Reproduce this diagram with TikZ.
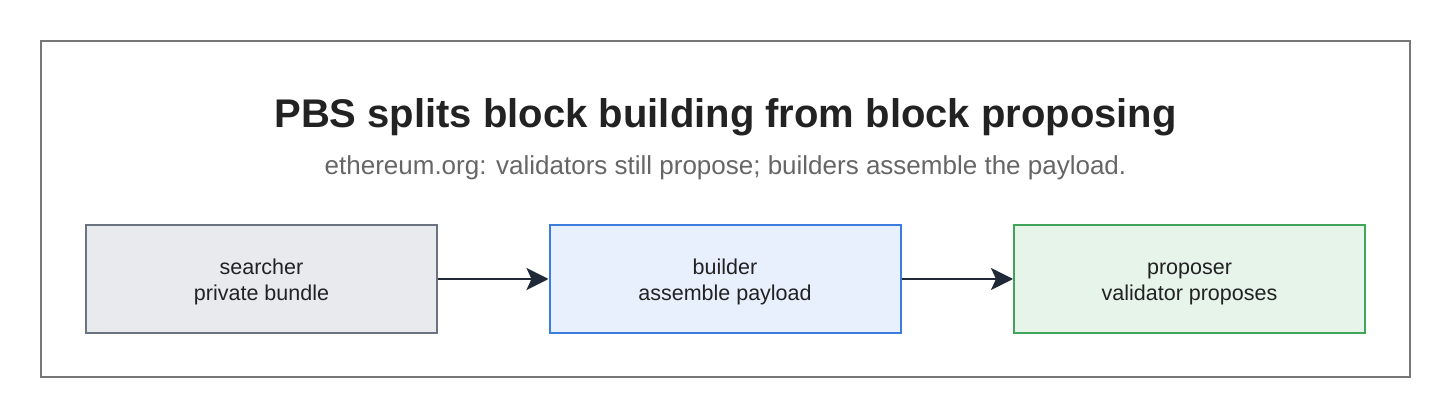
\documentclass[tikz,border=0pt]{standalone}
\usepackage{fontspec}
\setmainfont{Liberation Sans}
\usetikzlibrary{arrows.meta}
\definecolor{framec}{HTML}{777777}
\definecolor{titlec}{HTML}{222222}
\definecolor{subc}{HTML}{666666}
\definecolor{graystroke}{HTML}{6B7280}
\definecolor{grayfill}{HTML}{E8EAEE}
\definecolor{bluestroke}{HTML}{3B7DDD}
\definecolor{bluefill}{HTML}{E8F0FD}
\definecolor{greenstroke}{HTML}{3FA55A}
\definecolor{greenfill}{HTML}{E6F4EA}
\definecolor{arrowc}{HTML}{1F2937}
\begin{document}
\begin{tikzpicture}[x=1pt,y=-1pt,
  stagebox/.style={draw, line width=2pt, minimum width=351pt, minimum height=108pt, inner sep=0pt, align=center, font=\fontsize{21.5}{26}\selectfont, text=titlec},
  flow/.style={draw=arrowc, line width=2.5pt, -{Stealth[length=22pt,width=22pt,inset=5pt]}}]
\useasboundingbox (0,0) rectangle (1451,419);
\node[draw=framec, line width=2pt, minimum width=1369pt, minimum height=336pt, inner sep=0pt] (frame) at (725.5,209) {};
\node[font=\bfseries\fontsize{40}{46}\selectfont, text=titlec] (title) at (725.5,117) {PBS splits block building from block proposing};
\node[font=\fontsize{26}{30}\selectfont, text=subc] (sub) at (725.5,168) {ethereum.org: validators still propose; builders assemble the payload.};
\node[stagebox, draw=graystroke, fill=grayfill] (searcher) at (261.5,279) {\rule{0pt}{22pt}searcher\\private bundle};
\node[stagebox, draw=bluestroke, fill=bluefill] (builder) at (725,279) {\rule{0pt}{22pt}builder\\assemble payload};
\node[stagebox, draw=greenstroke, fill=greenfill] (proposer) at (1189.5,279) {\rule{0pt}{22pt}proposer\\validator proposes};
\draw[flow] (searcher.east) -- (builder.west);
\draw[flow] (builder.east) -- (proposer.west);
\end{tikzpicture}
\end{document}
